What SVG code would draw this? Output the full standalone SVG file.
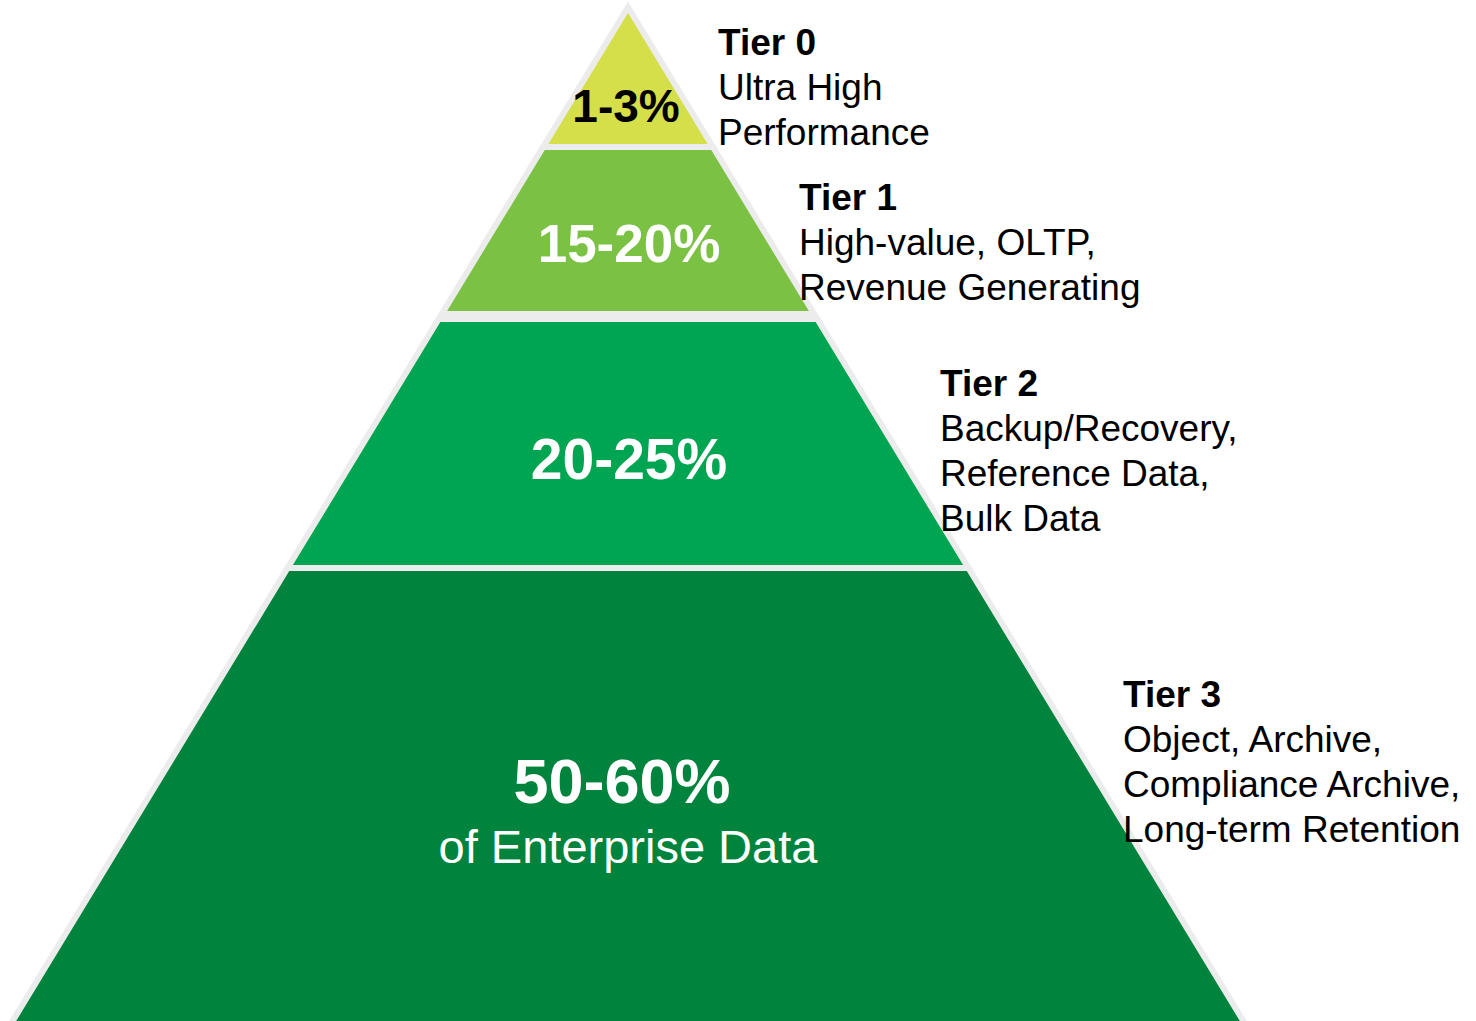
<svg xmlns="http://www.w3.org/2000/svg" width="1476" height="1021" viewBox="0 0 1476 1021">
<style>
.tier{stroke:#ececec;stroke-width:6;stroke-linejoin:miter;stroke-miterlimit:10}
.pct{font-family:"Liberation Sans",Arial,sans-serif;font-weight:bold;text-anchor:middle;fill:#ffffff}
.lbl{font-family:"Liberation Sans",Arial,sans-serif;font-size:37px;fill:#000000}
.hd{font-weight:bold}
</style>
<rect width="1476" height="1021" fill="#ffffff"/>
<g id="tier3">
<polygon class="tier" fill="#00843d" points="287.6,568 968.4,568 1248.8,1030 7.2,1030"/>
<text class="pct" x="622" y="803" font-size="63">50-60%</text>
<text x="628" y="863" font-family="Liberation Sans, Arial, sans-serif" font-size="47" fill="#ffffff" text-anchor="middle">of Enterprise Data</text>
</g>
<g id="tier2">
<polygon class="tier" fill="#00a551" points="438.7,319 817.3,319 968.4,568 287.6,568"/>
<text class="pct" x="629" y="479" font-size="57">20-25%</text>
</g>
<g id="tier1">
<polygon class="tier" fill="#7bc143" points="543.1,147 712.9,147 814.2,314 441.8,314"/>
<text class="pct" x="629" y="262" font-size="53">15-20%</text>
</g>
<g id="tier0">
<polygon class="tier" fill="#d4df4a" points="628,7.2 712.9,147 543.1,147"/>
<text class="pct" x="626" y="122" font-size="46" fill="#000000" style="fill:#000000">1-3%</text>
</g>
<g id="label0">
<text class="lbl" x="718" y="55"><tspan class="hd">Tier 0</tspan><tspan x="718" dy="45">Ultra High</tspan><tspan x="718" dy="45">Performance</tspan></text>
</g>
<g id="label1">
<text class="lbl" x="799" y="210"><tspan class="hd">Tier 1</tspan><tspan x="799" dy="45">High-value, OLTP,</tspan><tspan x="799" dy="45">Revenue Generating</tspan></text>
</g>
<g id="label2">
<text class="lbl" x="940" y="396"><tspan class="hd">Tier 2</tspan><tspan x="940" dy="45">Backup/Recovery,</tspan><tspan x="940" dy="45">Reference Data,</tspan><tspan x="940" dy="45">Bulk Data</tspan></text>
</g>
<g id="label3">
<text class="lbl" x="1123" y="707"><tspan class="hd">Tier 3</tspan><tspan x="1123" dy="45">Object, Archive,</tspan><tspan x="1123" dy="45">Compliance Archive,</tspan><tspan x="1123" dy="45">Long-term Retention</tspan></text>
</g>
<g id="connectors"></g>
</svg>
